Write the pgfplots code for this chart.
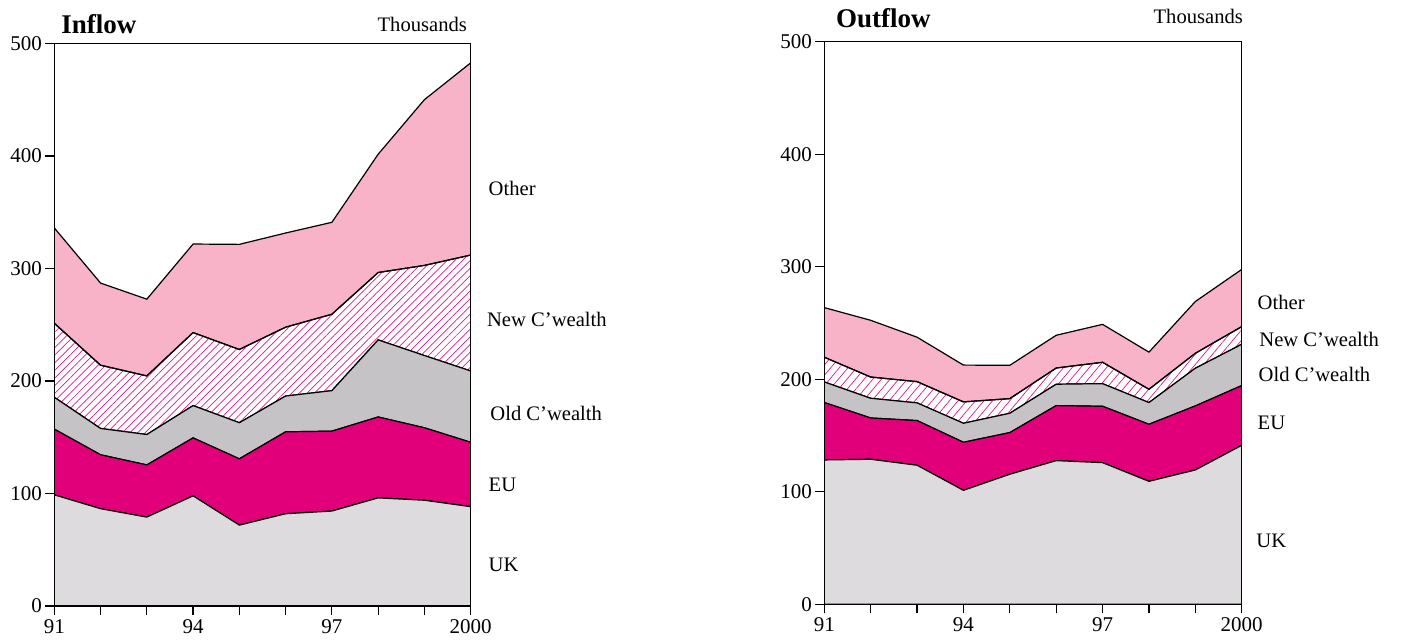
\documentclass[border=0pt]{standalone}
\usepackage{fontspec}
\setmainfont{Liberation Serif}
\usepackage{pgfplots}
\usepackage{pgfplotstable}
\pgfplotsset{compat=1.18}
\usetikzlibrary{patterns.meta}
\definecolor{ukc}{RGB}{221,219,221}
\definecolor{euc}{RGB}{226,0,122}
\definecolor{oldc}{RGB}{197,195,197}
\definecolor{othc}{RGB}{248,179,200}
\definecolor{hatc}{RGB}{232,20,135}

\pgfplotstableread{
year UK EU OldC NewC Other
1991 98.8 58.4 28.3 65.8 84.7
1992 86.5 47.9 23.4 56.2 73.0
1993 79.0 46.4 27.0 52.1 68.2
1994 97.9 51.5 28.7 64.9 78.7
1995 71.9 58.9 32.1 65.1 93.4
1996 82.0 72.8 31.8 61.2 83.7
1997 84.4 71.0 36.0 67.9 81.7
1998 96.1 71.9 68.5 59.9 105.1
1999 94.0 64.4 64.2 80.1 147.3
2000 88.3 57.2 63.4 103.0 170.8
}\inflow

\pgfplotstableread{
year UK EU OldC NewC Other
1991 128.3 51.0 18.3 22.0 44.1
1992 128.9 36.7 17.5 18.9 50.4
1993 123.6 39.7 15.7 18.9 39.5
1994 101.3 42.7 16.9 19.0 32.7
1995 115.6 37.0 17.2 13.0 29.6
1996 127.7 48.9 19.0 14.4 29.1
1997 125.9 50.1 20.1 19.0 33.7
1998 109.3 50.7 19.3 11.8 33.0
1999 119.4 56.9 33.5 13.3 46.0
2000 141.3 53.1 36.7 15.7 50.8
}\outflow

\pgfplotsset{
  flowax/.style={
    scale only axis, height=281.3pt,
    anchor=south west,
    xmin=1991, xmax=2000, ymin=0, ymax=500,
    stack plots=y, axis on top,
    xtick={1991,...,2000},
    xticklabels={91,,,94,,,97,,,2000},
    ytick={0,100,...,500},
    tick pos=left, tick align=outside,
    major tick length=4.5pt,
    axis line style={line width=0.6pt, black},
    every tick/.style={black, line width=0.6pt},
    tick label style={font=\fontsize{10.5}{12}\selectfont},
    /pgf/number format/assume math mode=true,
    yticklabel style={inner xsep=1.5pt},
    xticklabel style={inner ysep=2pt},
  },
  arealine/.style={draw=black, line width=0.6pt},
}

\begin{document}
\begin{tikzpicture}
\path[use as bounding box] (0,0) rectangle (700.5pt,319.5pt);

\begin{axis}[flowax, width=208.2pt, at={(27.15pt,16.5pt)}]
\addplot[arealine, fill=ukc] table[x=year,y=UK]{\inflow} \closedcycle;
\addplot[arealine, fill=euc] table[x=year,y=EU]{\inflow} \closedcycle;
\addplot[arealine, fill=oldc] table[x=year,y=OldC]{\inflow} \closedcycle;
\addplot[arealine, pattern={Lines[angle=45,distance=2.7pt,line width=0.35pt]}, pattern color=hatc] table[x=year,y=NewC]{\inflow} \closedcycle;
\addplot[arealine, fill=othc] table[x=year,y=Other]{\inflow} \closedcycle;
\end{axis}

\begin{axis}[flowax, width=208.7pt, at={(412.15pt,17.35pt)}]
\addplot[arealine, fill=ukc] table[x=year,y=UK]{\outflow} \closedcycle;
\addplot[arealine, fill=euc] table[x=year,y=EU]{\outflow} \closedcycle;
\addplot[arealine, fill=oldc] table[x=year,y=OldC]{\outflow} \closedcycle;
\addplot[arealine, pattern={Lines[angle=50,distance=3.3pt,line width=0.35pt]}, pattern color=hatc] table[x=year,y=NewC]{\outflow} \closedcycle;
\addplot[arealine, fill=othc] table[x=year,y=Other]{\outflow} \closedcycle;
\end{axis}

\begin{scope}[every node/.style={inner sep=0pt, anchor=base west, font=\fontsize{10.3}{12}\selectfont}]
\node[font=\fontsize{13.5}{16}\selectfont\bfseries] at (30.5pt,302.5pt) {Inflow};
\node[anchor=base east] at (233.65pt,303.65pt) {Thousands};
\node at (244.15pt,222pt) {Other};
\node at (243.35pt,156.15pt) {New C’wealth};
\node at (245pt,109.5pt) {Old C’wealth};
\node at (244.15pt,73.65pt) {EU};
\node at (244.15pt,33.65pt) {UK};

\node[font=\fontsize{13.5}{16}\selectfont\bfseries] at (417.85pt,305.85pt) {Outflow};
\node[anchor=base east] at (621.65pt,307.5pt) {Thousands};
\node at (628.65pt,164.85pt) {Other};
\node at (629.5pt,146.5pt) {New C’wealth};
\node at (629.15pt,128.65pt) {Old C’wealth};
\node at (628.65pt,105pt) {EU};
\node at (628pt,45.85pt) {UK};
\end{scope}
\end{tikzpicture}
\end{document}
